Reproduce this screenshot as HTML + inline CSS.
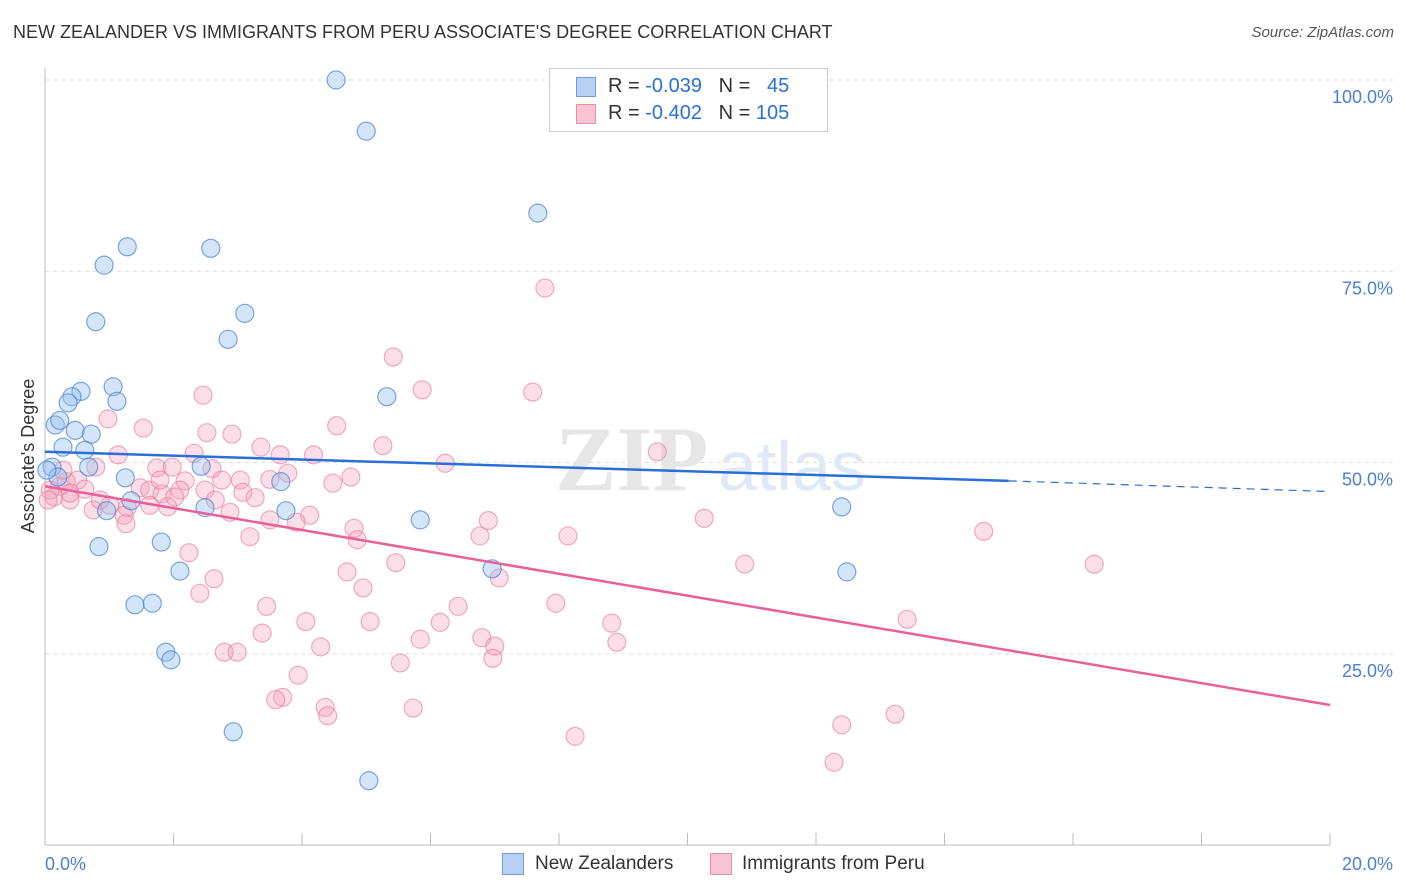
<!DOCTYPE html>
<html><head><meta charset="utf-8"><style>
body{margin:0;background:#fff;font-family:"Liberation Sans",sans-serif;}
#c{position:relative;width:1406px;height:892px;overflow:hidden}
.t{position:absolute;white-space:nowrap}
</style></head><body>
<div id="c">
<div class="t" style="left:13px;top:22px;font-size:18px;color:#333">NEW ZEALANDER VS IMMIGRANTS FROM PERU ASSOCIATE'S DEGREE CORRELATION CHART</div>
<div class="t" style="right:12px;top:24px;font-size:15px;color:#555;font-style:italic">Source: ZipAtlas.com</div>
<svg id="s" width="1406" height="892" style="position:absolute;left:0;top:0"></svg>
</div>
<script>
const yTicks=[100,75,50,25];
const yTickLabels=["100.0%","75.0%","50.0%","25.0%"];
const xTickLabels=["0.0%","20.0%"];
const blueX=[4.53,5.0,7.67,1.28,2.58,0.92,0.79,3.11,2.85,0.56,1.06,0.42,1.12,0.36,5.32,0.16,0.47,0.72,0.28,0.62,0.11,0.68,2.43,0.2,1.25,3.67,1.34,0.96,2.49,3.75,5.84,12.4,0.84,1.81,2.1,6.96,12.48,1.4,1.67,1.88,1.96,2.93,5.04,0.03,0.23];
const blueY=[100,93.3,82.6,78.2,78.0,75.8,68.4,69.5,66.1,59.3,59.9,58.6,58.0,57.8,58.6,54.9,54.2,53.7,52.0,51.6,49.4,49.4,49.5,48.1,48.0,47.5,45.0,43.7,44.1,43.7,42.5,44.2,39.0,39.6,35.8,36.1,35.7,31.4,31.6,25.2,24.2,14.8,8.4,49.0,55.5];
const pinkX=[7.78,5.42,5.87,7.59,2.46,0.98,1.53,4.54,2.52,2.91,5.26,3.36,9.53,1.14,2.32,3.66,4.18,6.23,1.74,1.98,2.6,0.79,3.78,4.76,3.04,3.5,2.18,2.75,4.48,0.51,0.23,0.33,0.62,1.48,1.63,2.1,1.82,3.08,2.02,3.27,0.14,0.39,1.01,1.28,0.75,1.91,2.88,4.12,1.23,3.91,1.26,6.9,10.26,4.81,14.61,6.77,8.14,3.19,4.86,2.24,5.46,10.89,16.33,4.7,7.07,2.63,4.95,2.41,7.95,6.43,3.45,4.06,5.06,6.15,8.82,13.42,3.38,6.8,5.84,8.9,4.29,7.0,2.79,2.99,6.97,5.53,3.94,3.7,3.59,4.36,5.73,4.4,13.23,12.4,8.25,12.28,0.08,0.05,0.28,0.39,0.86,1.63,3.5,1.79,2.49,2.65];
const pinkY=[72.8,63.8,59.5,59.2,58.8,55.7,54.5,54.8,53.9,53.7,52.2,52.0,51.4,51.0,51.2,51.0,51.0,49.9,49.3,49.4,49.2,49.4,48.6,48.1,47.7,47.8,47.6,47.7,47.3,47.7,46.9,47.5,46.5,46.7,46.4,46.4,45.9,46.1,45.5,45.4,45.5,45.1,44.4,44.1,43.8,44.2,43.5,43.1,43.1,42.2,42.0,42.4,42.7,41.4,41.0,40.4,40.4,40.3,39.9,38.2,36.9,36.7,36.7,35.7,34.9,34.8,33.6,32.9,31.6,31.2,31.2,29.2,29.2,29.1,29.0,29.5,27.7,27.1,26.9,26.5,25.9,26.0,25.2,25.2,24.4,23.8,22.2,19.3,19.0,18.0,17.9,16.9,17.1,15.7,14.2,10.8,46.4,45.1,49.0,46.0,45.1,44.4,42.5,47.7,46.4,45.1];
const blueTrendX=[0,15,20];
const blueTrendY=[51.4,47.6,46.2];
const pinkTrendX=[0,20];
const pinkTrendY=[46.9,18.3];
const X=v=>45+v/20*1285, Y=v=>845-v/100*765;
const s=document.getElementById('s');const NS='http://www.w3.org/2000/svg';
function el(t,a,p){const e=document.createElementNS(NS,t);for(const k in a)e.setAttribute(k,a[k]);(p||s).appendChild(e);return e;}
yTicks.forEach((v,i)=>{
 const g=el('line',{x1:45,x2:1393,y1:Y(v),y2:Y(v),stroke:'#ddd','stroke-dasharray':'4,4'});
 
 
 const t=el('text',{x:1393,y:Y(v)+23,'text-anchor':'end','font-size':18,fill:'#4a7fd4','font-family':'Liberation Sans'});t.textContent=yTickLabels[i];
 
 
});
el('line',{x1:45,x2:45,y1:68,y2:845,stroke:'#bbb'});
el('line',{x1:45,x2:1330,y1:845,y2:845,stroke:'#bbb'});
for(let i=1;i<=10;i++){const tk=el('line',{x1:X(i*2),x2:X(i*2),y1:833,y2:845,stroke:'#bbb'});
 
 }
[[0,'start',45],[1,'end',1393]].forEach(([i,a,x])=>{const t=el('text',{x:x,y:870,'text-anchor':a,'font-size':18,fill:'#4a7fd4','font-family':'Liberation Sans'});t.textContent=xTickLabels[i];
 
 });
const yt=el('text',{x:34,y:456,transform:'rotate(-90 34 456)','text-anchor':'middle','font-size':18,fill:'#333','font-family':'Liberation Sans'});yt.textContent="Associate's Degree";


const wm=el('text',{x:555,y:490,'font-size':92,fill:'#e6e6e6','font-family':'Liberation Serif','font-weight':'bold'});wm.textContent='ZIP';


const wm2=el('text',{x:718,y:490,'font-size':70,fill:'#dfe8f5','font-family':'Liberation Sans'});wm2.textContent='atlas';


pinkX.forEach((v,i)=>{const c=el('circle',{cx:X(v),cy:Y(pinkY[i]),r:9,fill:'rgba(244,160,185,0.35)',stroke:'rgba(230,120,155,0.6)','stroke-width':1.2});
 
 });
blueX.forEach((v,i)=>{const c=el('circle',{cx:X(v),cy:Y(blueY[i]),r:9,fill:'rgba(150,190,240,0.4)',stroke:'rgba(70,130,210,0.7)','stroke-width':1.2});
 
 });
const bl=el('line',{x1:X(blueTrendX[0]),y1:Y(blueTrendY[0]),x2:X(blueTrendX[1]),y2:Y(blueTrendY[1]),stroke:'#2a6fd6','stroke-width':2.5});


const bd=el('line',{x1:X(blueTrendX[1]),y1:Y(blueTrendY[1]),x2:X(blueTrendX[2]),y2:Y(blueTrendY[2]),stroke:'#2a6fd6','stroke-width':1.2,'stroke-dasharray':'8,6'});


const pl=el('line',{x1:X(pinkTrendX[0]),y1:Y(pinkTrendY[0]),x2:X(pinkTrendX[1]),y2:Y(pinkTrendY[1]),stroke:'#e8609a','stroke-width':2.5});


</script>
<div style="position:absolute;left:549px;top:68px;width:277px;height:62px;border:1px solid #ccc;background:#fff;font-size:20px;color:#333">
 <div style="position:absolute;left:26px;top:8px;width:18px;height:18px;background:#b7d0f3;border:1px solid #6f9be0"></div>
 <div class="t" style="left:58px;top:6px">R = <span style="color:#2a6fd6">-0.039</span>&nbsp;&nbsp;&nbsp;N = &nbsp;&nbsp;<span style="color:#2a6fd6">45</span></div>
 <div style="position:absolute;left:26px;top:35px;width:18px;height:18px;background:#f8c3d3;border:1px solid #e890ab"></div>
 <div class="t" style="left:58px;top:33px">R = <span style="color:#2a6fd6">-0.402</span>&nbsp;&nbsp;&nbsp;N = <span style="color:#2a6fd6">105</span></div>
</div>
<div style="position:absolute;left:502px;top:852px;font-size:19px;color:#333">
 <div style="position:absolute;left:0;top:1px;width:20px;height:20px;background:#b7d0f3;border:1px solid #6f9be0"></div>
 <div class="t" style="left:33px;top:1px">New Zealanders</div>
 <div style="position:absolute;left:208px;top:1px;width:20px;height:20px;background:#f8c3d3;border:1px solid #e890ab"></div>
 <div class="t" style="left:240px;top:1px">Immigrants from Peru</div>
</div>
</body></html>
